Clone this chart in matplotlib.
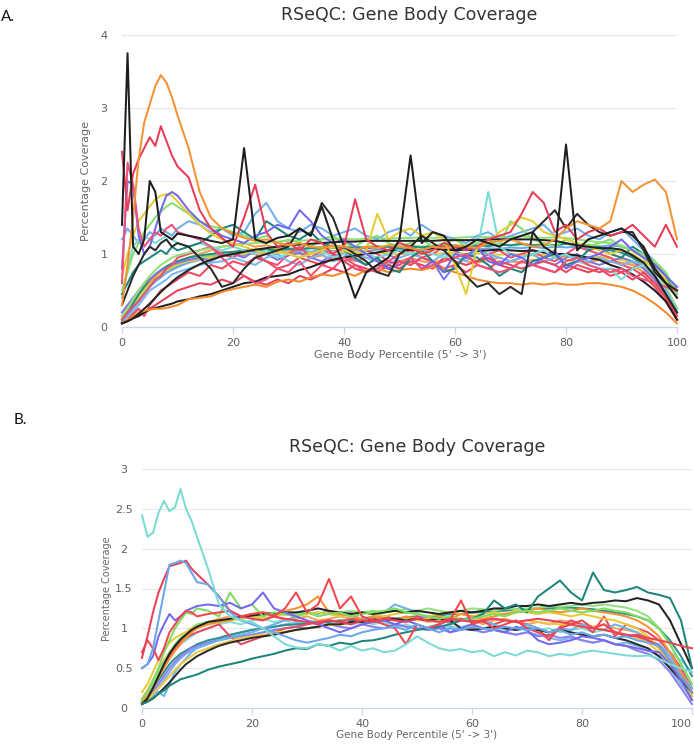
import matplotlib
matplotlib.use("Agg")
import matplotlib.pyplot as plt


# =========================================================
# DATA  (percentile grid: 0..10 step 1, then 12..100 step 2)
# =========================================================

x_pct = list(range(0, 11)) + list(range(12, 101, 2))

# ---------- panel A ----------
a_black_spike = [1.40, 3.75, 1.10, 1.00, 1.20, 2.00, 1.85, 1.30, 1.25, 1.20, 1.28,
                 1.25, 1.22, 1.18, 1.15, 1.20, 2.45, 1.20, 1.15, 1.22, 1.25,
                 1.35, 1.25, 1.65, 1.20, 0.85, 0.40, 0.75, 0.85, 0.95, 1.20,
                 2.35, 1.15, 1.30, 1.25, 1.05, 1.10, 1.20, 1.15, 1.10, 1.20,
                 1.25, 1.30, 1.10, 1.00, 2.50, 1.05, 1.20, 1.25, 1.30, 1.35,
                 1.25, 1.10, 0.80, 0.60, 0.40]
a_black_noisy = [0.30, 0.50, 0.70, 0.85, 1.00, 1.10, 1.05, 1.15, 1.20, 1.10, 1.15,
                 1.10, 0.95, 0.80, 0.55, 0.60, 0.80, 0.95, 1.00, 1.05, 1.10,
                 1.35, 1.25, 1.70, 1.50, 1.10, 1.00, 0.90, 0.75, 0.70, 1.00,
                 1.10, 1.25, 1.15, 1.05, 0.90, 0.70, 0.55, 0.60, 0.45, 0.55,
                 0.45, 1.30, 1.45, 1.60, 1.35, 1.55, 1.40, 1.30, 1.25, 1.30,
                 1.30, 1.05, 0.75, 0.60, 0.50]
a_black_smooth = [0.05, 0.08, 0.12, 0.18, 0.25, 0.32, 0.40, 0.48, 0.55, 0.62, 0.68,
                  0.78, 0.86, 0.92, 0.97, 1.00, 1.03, 1.06, 1.08, 1.10, 1.12,
                  1.13, 1.14, 1.15, 1.16, 1.17, 1.17, 1.18, 1.18, 1.18, 1.18,
                  1.18, 1.18, 1.18, 1.19, 1.19, 1.19, 1.19, 1.20, 1.20, 1.20,
                  1.20, 1.20, 1.19, 1.18, 1.15, 1.12, 1.10, 1.08, 1.08, 1.06,
                  0.98, 0.88, 0.70, 0.45, 0.20]
a_black_low = [0.05, 0.08, 0.12, 0.15, 0.20, 0.24, 0.26, 0.28, 0.30, 0.32, 0.35,
               0.38, 0.42, 0.45, 0.50, 0.55, 0.60, 0.62, 0.68, 0.70, 0.72,
               0.78, 0.82, 0.88, 0.92, 0.95, 0.98, 1.00, 1.02, 1.05, 1.04,
               1.06, 1.05, 1.08, 1.06, 1.05, 1.06, 1.04, 1.05, 1.06, 1.05,
               1.04, 1.05, 1.02, 1.00, 1.00, 0.98, 0.95, 0.92, 0.85, 0.80,
               0.72, 0.62, 0.50, 0.35, 0.10]
a_orange_peak = [0.30, 0.85, 1.50, 2.30, 2.80, 3.05, 3.30, 3.45, 3.35, 3.15, 2.90,
                 2.45, 1.85, 1.50, 1.35, 1.28, 1.22, 1.18, 1.20, 1.15, 1.12,
                 1.15, 1.10, 1.08, 1.12, 1.10, 1.05, 1.10, 1.08, 1.12, 1.10,
                 1.08, 1.05, 1.10, 1.08, 1.12, 1.10, 1.08, 1.15, 1.18, 1.20,
                 1.15, 1.10, 1.12, 1.20, 1.35, 1.45, 1.40, 1.35, 1.45, 2.00,
                 1.85, 1.95, 2.02, 1.85, 1.20]
a_orange_low = [0.05, 0.10, 0.15, 0.20, 0.22, 0.24, 0.25, 0.25, 0.26, 0.28, 0.30,
                0.38, 0.40, 0.42, 0.48, 0.52, 0.55, 0.58, 0.55, 0.62, 0.65,
                0.62, 0.68, 0.72, 0.70, 0.75, 0.70, 0.78, 0.80, 0.75, 0.78,
                0.80, 0.78, 0.82, 0.80, 0.75, 0.70, 0.65, 0.62, 0.60, 0.60,
                0.58, 0.60, 0.58, 0.60, 0.58, 0.58, 0.60, 0.60, 0.58, 0.55,
                0.50, 0.42, 0.32, 0.20, 0.05]
a_red_peak = [2.40, 1.60, 2.10, 2.30, 2.45, 2.60, 2.48, 2.75, 2.55, 2.35, 2.20,
              2.05, 1.60, 1.35, 1.22, 1.10, 1.50, 1.95, 1.30, 1.10, 1.15,
              1.05, 1.20, 1.15, 1.00, 1.10, 1.75, 1.20, 1.10, 1.05, 1.15,
              1.10, 1.00, 1.05, 1.15, 1.10, 1.05, 1.10, 1.20, 1.25, 1.30,
              1.55, 1.85, 1.70, 1.30, 1.40, 1.20, 1.30, 1.35, 1.25, 1.30,
              1.40, 1.25, 1.10, 1.40, 1.10]
a_pink = [0.60, 2.25, 1.95, 1.35, 1.10, 1.20, 1.30, 1.25, 1.35, 1.40, 1.30,
          1.25, 1.20, 1.10, 0.95, 0.80, 0.70, 0.60, 0.65, 0.80, 0.75,
          0.90, 0.70, 0.85, 0.80, 0.95, 0.85, 0.75, 0.80, 0.90, 0.85,
          0.95, 0.80, 0.85, 0.90, 0.95, 1.00, 0.85, 0.80, 0.75, 0.80,
          0.90, 0.85, 0.80, 0.75, 0.90, 0.95, 0.85, 0.80, 0.75, 0.80,
          0.70, 0.65, 0.60, 0.55, 0.50]
a_purple = [0.80, 2.00, 1.95, 1.25, 1.00, 1.10, 1.35, 1.60, 1.80, 1.85, 1.80,
            1.60, 1.45, 1.35, 1.25, 1.20, 1.15, 1.25, 1.30, 1.40, 1.35,
            1.60, 1.45, 1.25, 1.15, 1.20, 1.10, 1.00, 0.90, 0.80, 0.85,
            0.95, 0.80, 0.90, 0.75, 1.00, 0.95, 1.10, 0.90, 0.85, 1.00,
            0.95, 0.85, 0.95, 1.05, 0.80, 0.90, 0.95, 1.00, 1.10, 1.20,
            1.05, 0.95, 0.85, 0.70, 0.55]
a_yellow = [0.70, 1.00, 1.25, 1.45, 1.55, 1.65, 1.75, 1.80, 1.82, 1.80, 1.72,
            1.55, 1.40, 1.28, 1.20, 1.15, 1.10, 1.05, 1.00, 1.05, 1.00,
            0.95, 1.00, 1.05, 1.10, 1.05, 1.00, 1.05, 1.55, 1.20, 1.30,
            1.35, 1.25, 1.30, 1.20, 0.85, 0.45, 1.10, 1.15, 1.30, 1.40,
            1.50, 1.45, 1.30, 1.25, 1.20, 1.15, 1.10, 1.05, 1.00, 1.05,
            1.00, 0.90, 0.80, 0.65, 0.40]
a_green = [0.50, 0.75, 1.00, 1.15, 1.30, 1.40, 1.50, 1.58, 1.65, 1.70, 1.65,
           1.55, 1.45, 1.38, 1.35, 1.30, 1.25, 1.20, 1.25, 1.15, 1.20,
           1.15, 1.10, 1.20, 1.25, 1.15, 1.10, 1.20, 1.25, 1.15, 1.10,
           1.15, 1.20, 1.10, 1.15, 1.20, 1.10, 1.15, 1.20, 1.10, 1.45,
           1.35, 1.20, 1.15, 1.10, 1.20, 1.15, 1.10, 1.15, 1.20, 1.10,
           1.05, 1.00, 0.90, 0.75, 0.45]
a_teal = [0.45, 0.60, 0.75, 0.85, 0.90, 0.95, 1.00, 1.05, 1.00, 1.10, 1.05,
          1.10, 1.15, 1.25, 1.35, 1.40, 1.30, 1.20, 1.45, 1.35, 1.25,
          1.20, 1.30, 1.15, 1.10, 1.05, 0.95, 0.85, 0.95, 0.80, 0.75,
          0.95, 1.05, 0.90, 0.75, 0.80, 1.00, 0.95, 0.85, 0.70, 0.80,
          0.75, 0.90, 0.95, 1.00, 0.85, 0.90, 1.05, 1.10, 1.00, 0.95,
          1.10, 1.00, 0.85, 0.70, 0.45]
a_cyan = [0.40, 0.80, 1.10, 1.20, 1.25, 1.20, 1.15, 1.20, 1.25, 1.20, 1.15,
          1.10, 1.15, 1.10, 1.05, 1.10, 1.05, 1.00, 1.05, 0.95, 1.00,
          0.95, 1.00, 1.05, 0.95, 1.00, 1.05, 1.00, 0.95, 1.00, 1.05,
          1.00, 1.05, 1.00, 0.95, 1.00, 1.00, 1.05, 1.85, 1.10, 1.00,
          0.95, 1.00, 1.05, 0.95, 1.00, 0.90, 0.85, 0.80, 0.80, 0.65,
          0.80, 0.85, 0.75, 0.65, 0.55]
a_lightblue = [1.20, 1.35, 1.25, 1.15, 1.20, 1.30, 1.25, 1.35, 1.30, 1.25, 1.35,
               1.45, 1.40, 1.30, 1.35, 1.25, 1.30, 1.55, 1.70, 1.45, 1.35,
               1.30, 1.40, 1.35, 1.25, 1.30, 1.35, 1.25, 1.20, 1.30, 1.35,
               1.25, 1.40, 1.30, 1.25, 1.20, 1.15, 1.25, 1.30, 1.20, 1.25,
               1.30, 1.35, 1.40, 1.25, 1.30, 1.35, 1.25, 1.20, 1.30, 1.35,
               1.20, 1.05, 0.90, 0.70, 0.40]
a_green_s = [0.10, 0.18, 0.28, 0.38, 0.48, 0.56, 0.64, 0.70, 0.76, 0.80, 0.84,
             0.90, 0.95, 0.98, 1.00, 1.02, 1.04, 1.06, 1.05, 1.08, 1.07,
             1.09, 1.08, 1.10, 1.09, 1.10, 1.08, 1.10, 1.11, 1.09, 1.10,
             1.12, 1.10, 1.11, 1.12, 1.10, 1.12, 1.11, 1.12, 1.13, 1.12,
             1.13, 1.12, 1.13, 1.12, 1.14, 1.12, 1.13, 1.10, 1.08, 1.05,
             0.98, 0.85, 0.65, 0.40, 0.15]
a_red_s = [0.05, 0.10, 0.18, 0.25, 0.15, 0.30, 0.40, 0.50, 0.55, 0.60, 0.65,
           0.75, 0.70, 0.85, 0.80, 0.90, 0.85, 0.95, 0.90, 0.80, 0.85,
           0.95, 0.90, 0.85, 0.95, 0.90, 0.80, 0.75, 0.85, 0.80, 0.90,
           0.85, 0.95, 0.90, 0.80, 0.85, 0.75, 0.85, 0.80, 0.90, 0.85,
           0.80, 0.85, 0.90, 0.85, 0.75, 0.85, 0.80, 0.75, 0.80, 0.75,
           0.80, 0.70, 0.55, 0.35, 0.10]
a_blue_s = [0.08, 0.15, 0.25, 0.35, 0.45, 0.55, 0.62, 0.68, 0.74, 0.78, 0.82,
            0.88, 0.92, 0.95, 0.98, 1.00, 0.98, 1.02, 1.00, 1.04, 1.02,
            1.05, 1.03, 1.06, 1.04, 1.05, 1.06, 1.04, 1.06, 1.05, 1.07,
            1.05, 1.06, 1.08, 1.06, 1.07, 1.08, 1.06, 1.08, 1.07, 1.09,
            1.08, 1.10, 1.08, 1.10, 1.09, 1.10, 1.08, 1.10, 1.12, 1.10,
            1.05, 0.95, 0.80, 0.55, 0.25]
a_yellow_s = [0.12, 0.22, 0.32, 0.42, 0.52, 0.60, 0.67, 0.73, 0.78, 0.82, 0.86,
              0.90, 0.93, 0.95, 0.97, 0.99, 1.00, 1.01, 1.00, 1.02, 1.01,
              1.00, 1.02, 1.01, 1.03, 1.02, 1.01, 1.00, 1.02, 1.01, 1.00,
              1.01, 1.02, 1.00, 1.01, 1.02, 1.00, 1.01, 1.00, 0.99, 1.00,
              0.99, 0.98, 0.99, 0.98, 0.97, 0.96, 0.95, 0.96, 0.94, 0.92,
              0.88, 0.80, 0.65, 0.45, 0.15]
a_orange_s = [0.15, 0.25, 0.35, 0.45, 0.55, 0.62, 0.70, 0.76, 0.82, 0.86, 0.90,
              0.95, 1.00, 1.05, 1.10, 1.12, 1.15, 1.10, 1.12, 1.08, 1.05,
              1.00, 0.95, 0.98, 0.92, 0.95, 0.90, 0.95, 0.92, 0.88, 0.90,
              0.95, 0.90, 0.88, 0.92, 0.95, 0.90, 0.88, 0.92, 0.95, 0.90,
              0.88, 0.92, 0.90, 0.95, 0.92, 0.90, 0.88, 0.92, 0.90, 0.88,
              0.85, 0.75, 0.60, 0.40, 0.10]
a_teal_s = [0.10, 0.20, 0.32, 0.45, 0.55, 0.65, 0.72, 0.78, 0.83, 0.87, 0.90,
            0.95, 0.98, 1.00, 1.02, 1.03, 1.05, 1.04, 1.06, 1.05, 1.07,
            1.06, 1.08, 1.07, 1.09, 1.08, 1.10, 1.08, 1.09, 1.10, 1.08,
            1.10, 1.09, 1.11, 1.10, 1.12, 1.10, 1.12, 1.11, 1.13, 1.12,
            1.14, 1.12, 1.13, 1.12, 1.14, 1.12, 1.10, 1.08, 1.05, 1.02,
            0.95, 0.85, 0.70, 0.50, 0.25]
a_purple_s = [0.20, 0.30, 0.40, 0.50, 0.60, 0.65, 0.72, 0.78, 0.80, 0.85, 0.88,
              0.92, 0.95, 0.90, 0.98, 1.00, 0.95, 1.05, 1.00, 0.92, 0.98,
              1.02, 0.95, 0.90, 0.98, 1.00, 0.92, 0.85, 0.95, 1.00, 0.90,
              0.85, 0.95, 0.90, 0.65, 0.85, 0.95, 0.90, 1.00, 0.85, 0.90,
              0.95, 1.00, 0.90, 0.85, 0.95, 1.00, 0.90, 0.85, 0.90, 0.95,
              0.90, 0.80, 0.65, 0.45, 0.20]
a_pink_s = [0.10, 0.20, 0.28, 0.35, 0.45, 0.55, 0.65, 0.70, 0.80, 0.85, 0.95,
            1.00, 1.05, 1.10, 1.00, 0.95, 1.05, 1.00, 0.90, 0.85, 1.00,
            1.10, 0.95, 1.05, 1.00, 0.90, 0.95, 1.05, 1.00, 0.90, 1.00,
            1.05, 0.95, 1.00, 1.10, 1.05, 0.95, 0.90, 1.00, 1.05, 0.95,
            1.00, 1.05, 0.95, 0.90, 1.00, 1.10, 1.05, 1.00, 0.95, 0.85,
            0.80, 0.90, 0.85, 0.70, 0.50]
a_lime_s = [0.15, 0.25, 0.38, 0.50, 0.60, 0.70, 0.78, 0.85, 0.90, 0.95, 0.98,
            1.02, 1.05, 1.08, 1.10, 1.12, 1.14, 1.15, 1.16, 1.17, 1.18,
            1.18, 1.19, 1.20, 1.20, 1.21, 1.20, 1.21, 1.22, 1.21, 1.22,
            1.22, 1.23, 1.22, 1.23, 1.22, 1.23, 1.24, 1.23, 1.24, 1.23,
            1.24, 1.23, 1.22, 1.23, 1.22, 1.20, 1.18, 1.16, 1.15, 1.12,
            1.05, 0.95, 0.78, 0.55, 0.25]
a_skyblue_s = [0.05, 0.10, 0.20, 0.30, 0.40, 0.50, 0.55, 0.60, 0.65, 0.72, 0.75,
               0.80, 0.85, 0.88, 0.90, 0.95, 0.90, 0.85, 0.95, 1.00, 0.90,
               0.85, 0.95, 1.00, 0.90, 0.95, 1.00, 0.95, 0.90, 0.85, 0.95,
               1.00, 0.95, 0.90, 1.00, 0.95, 0.90, 1.05, 1.00, 0.95, 0.90,
               0.95, 1.00, 0.90, 0.95, 1.00, 0.95, 0.90, 0.95, 0.90, 0.85,
               0.90, 0.85, 0.70, 0.50, 0.20]
a_red_low = [0.05, 0.08, 0.12, 0.15, 0.20, 0.25, 0.30, 0.35, 0.40, 0.45, 0.50,
             0.55, 0.60, 0.58, 0.65, 0.60, 0.70, 0.62, 0.58, 0.65, 0.60,
             0.70, 0.65, 0.72, 0.80, 0.75, 0.85, 0.80, 0.75, 0.85, 0.80,
             0.90, 0.85, 0.80, 0.95, 0.90, 0.85, 0.90, 0.95, 0.85, 0.80,
             0.90, 0.85, 0.80, 0.75, 0.85, 0.80, 0.75, 0.80, 0.70, 0.75,
             0.65, 0.75, 0.60, 0.40, 0.15]

# ---------- panel B ----------
b_cyan_peak = [2.42, 2.15, 2.20, 2.45, 2.60, 2.47, 2.52, 2.75, 2.50, 2.35, 2.15,
               1.75, 1.30, 1.15, 1.10, 1.08, 1.00, 0.90, 0.80, 0.76, 0.75,
               0.80, 0.78, 0.72, 0.78, 0.72, 0.75, 0.70, 0.72, 0.80, 0.90,
               0.82, 0.75, 0.72, 0.74, 0.70, 0.72, 0.65, 0.70, 0.66, 0.72,
               0.70, 0.65, 0.68, 0.66, 0.70, 0.72, 0.70, 0.68, 0.66, 0.65,
               0.66, 0.62, 0.55, 0.50, 0.45]
b_blue_peak = [0.50, 0.55, 0.75, 1.10, 1.45, 1.80, 1.82, 1.85, 1.82, 1.70, 1.58,
               1.55, 1.40, 1.20, 1.10, 1.05, 1.00, 0.95, 0.90, 0.85, 0.82,
               0.85, 0.88, 0.92, 0.90, 0.95, 0.98, 1.00, 1.02, 0.98, 1.05,
               1.00, 0.95, 1.00, 0.98, 1.02, 1.00, 0.98, 1.02, 1.00, 0.98,
               1.00, 0.95, 0.98, 0.92, 0.95, 0.90, 0.92, 0.88, 0.90, 0.85,
               0.82, 0.78, 0.60, 0.40, 0.20]
b_red_peak = [0.63, 0.90, 1.20, 1.45, 1.62, 1.78, 1.80, 1.82, 1.85, 1.75, 1.68,
              1.55, 1.40, 1.22, 1.15, 1.12, 1.10, 1.15, 1.12, 1.10, 1.08,
              1.05, 1.10, 1.08, 1.05, 1.10, 1.08, 1.12, 1.10, 1.08, 1.12,
              1.10, 1.08, 1.12, 1.10, 1.08, 1.10, 1.12, 1.10, 1.08, 1.10,
              1.12, 1.10, 1.08, 1.05, 1.02, 1.00, 0.98, 0.95, 0.92, 0.90,
              0.85, 0.78, 0.60, 0.40, 0.20]
b_red_jag = [0.70, 0.85, 0.75, 0.60, 0.75, 0.95, 1.05, 1.15, 1.22, 1.20, 1.15,
             1.18, 1.20, 1.22, 1.15, 1.18, 1.20, 1.15, 1.25, 1.45, 1.20,
             1.30, 1.62, 1.25, 1.40, 1.15, 1.10, 1.05, 1.00, 0.80, 1.05,
             1.00, 1.05, 1.10, 1.35, 1.05, 1.10, 1.00, 1.05, 1.10, 1.00,
             0.95, 0.90, 1.00, 1.05, 1.10, 1.00, 1.05, 0.95, 0.90, 0.92,
             0.88, 0.85, 0.82, 0.78, 0.75]
b_purple = [0.50, 0.55, 0.65, 0.90, 1.05, 1.18, 1.10, 1.15, 1.22, 1.25, 1.28,
            1.30, 1.28, 1.32, 1.25, 1.30, 1.45, 1.25, 1.20, 1.15, 1.10,
            1.05, 1.00, 0.95, 1.00, 1.05, 1.08, 1.10, 1.05, 1.10, 1.05,
            1.00, 1.05, 0.95, 1.00, 1.05, 1.00, 0.98, 0.95, 1.02, 0.98,
            0.85, 0.80, 0.82, 0.85, 0.90, 0.88, 0.85, 0.80, 0.78, 0.75,
            0.72, 0.70, 0.55, 0.35, 0.10]
b_green_jag = [0.10, 0.20, 0.35, 0.50, 0.70, 0.85, 1.00, 1.10, 1.20, 1.18, 1.25,
               1.22, 1.15, 1.45, 1.25, 1.30, 1.15, 1.20, 1.18, 1.15, 1.20,
               1.15, 1.18, 1.20, 1.15, 1.18, 1.20, 1.22, 1.25, 1.20, 1.18,
               1.15, 1.12, 1.15, 1.10, 1.12, 1.15, 1.18, 1.15, 1.20, 1.22,
               1.20, 1.22, 1.25, 1.22, 1.20, 1.22, 1.25, 1.22, 1.20, 1.15,
               1.10, 1.00, 0.80, 0.55, 0.30]
b_teal_low = [0.05, 0.08, 0.12, 0.18, 0.22, 0.28, 0.32, 0.36, 0.38, 0.40, 0.42,
              0.48, 0.52, 0.55, 0.58, 0.62, 0.65, 0.68, 0.72, 0.75, 0.74,
              0.80, 0.78, 0.82, 0.80, 0.84, 0.85, 0.88, 0.92, 0.95, 0.98,
              1.00, 1.02, 1.05, 1.10, 1.12, 1.18, 1.35, 1.25, 1.30, 1.20,
              1.40, 1.50, 1.60, 1.45, 1.35, 1.70, 1.48, 1.45, 1.48, 1.52,
              1.45, 1.42, 1.38, 1.10, 0.50]
b_black_high = [0.05, 0.12, 0.25, 0.40, 0.55, 0.68, 0.78, 0.86, 0.92, 0.98, 1.02,
                1.08, 1.10, 1.12, 1.15, 1.16, 1.18, 1.19, 1.20, 1.20, 1.22,
                1.25, 1.22, 1.20, 1.18, 1.20, 1.18, 1.20, 1.22, 1.20, 1.22,
                1.20, 1.18, 1.20, 1.22, 1.20, 1.22, 1.25, 1.25, 1.28, 1.28,
                1.30, 1.28, 1.30, 1.32, 1.30, 1.32, 1.33, 1.35, 1.34, 1.38,
                1.35, 1.30, 1.10, 0.80, 0.50]
b_black_mid = [0.05, 0.08, 0.12, 0.18, 0.25, 0.32, 0.40, 0.48, 0.55, 0.60, 0.65,
               0.72, 0.78, 0.82, 0.85, 0.88, 0.90, 0.92, 0.95, 0.98, 1.00,
               1.02, 1.05, 1.05, 1.08, 1.08, 1.10, 1.10, 1.12, 1.10, 1.12,
               1.10, 1.12, 1.10, 1.00, 0.98, 1.00, 1.02, 1.00, 0.98, 1.00,
               0.98, 0.95, 0.98, 0.95, 0.92, 0.90, 0.92, 0.88, 0.85, 0.80,
               0.75, 0.65, 0.50, 0.35, 0.20]
b_orange = [0.08, 0.15, 0.25, 0.38, 0.50, 0.62, 0.72, 0.80, 0.88, 0.95, 1.00,
            1.05, 1.08, 1.10, 1.15, 1.18, 1.20, 1.18, 1.22, 1.25, 1.30,
            1.40, 1.20, 1.18, 1.15, 1.12, 1.15, 1.12, 1.10, 1.15, 1.12,
            1.10, 1.15, 1.12, 1.18, 1.15, 1.12, 1.15, 1.18, 1.20, 1.22,
            1.25, 1.22, 1.20, 1.22, 1.25, 1.22, 1.20, 1.18, 1.15, 1.10,
            1.02, 0.90, 0.70, 0.45, 0.20]
b_yellow = [0.20, 0.30, 0.45, 0.60, 0.72, 0.82, 0.88, 0.92, 0.95, 1.00, 1.02,
            1.05, 1.08, 1.10, 1.12, 1.15, 1.12, 1.15, 1.18, 1.15, 1.18,
            1.20, 1.18, 1.15, 1.18, 1.20, 1.18, 1.15, 1.18, 1.20, 1.18,
            1.15, 1.18, 1.20, 1.18, 1.15, 1.18, 1.20, 1.18, 1.22, 1.20,
            1.18, 1.20, 1.18, 1.15, 1.18, 1.15, 1.12, 1.10, 1.05, 1.00,
            0.90, 0.75, 0.55, 0.35, 0.18]
b_yellow_low = [0.05, 0.10, 0.18, 0.25, 0.32, 0.40, 0.48, 0.55, 0.60, 0.65, 0.70,
                0.75, 0.80, 0.84, 0.88, 0.90, 0.92, 0.95, 0.96, 0.98, 1.00,
                1.02, 1.04, 1.05, 1.06, 1.08, 1.08, 1.10, 1.10, 1.12, 1.10,
                1.12, 1.10, 1.12, 1.10, 1.12, 1.10, 1.12, 1.10, 1.08, 1.10,
                1.08, 1.06, 1.05, 1.04, 1.02, 1.00, 0.98, 0.96, 0.92, 0.88,
                0.82, 0.70, 0.55, 0.35, 0.10]
b_lightblue = [0.08, 0.15, 0.18, 0.20, 0.15, 0.30, 0.45, 0.55, 0.62, 0.70, 0.75,
               0.80, 0.85, 0.88, 0.92, 0.95, 1.00, 1.05, 1.10, 1.15, 1.20,
               1.18, 1.22, 1.15, 1.20, 1.10, 1.15, 1.20, 1.30, 1.25, 1.20,
               1.10, 1.15, 1.05, 1.10, 1.15, 1.10, 1.05, 1.00, 0.98, 1.05,
               1.00, 0.95, 1.00, 0.98, 1.05, 1.00, 0.98, 1.05, 1.00, 0.95,
               0.85, 0.80, 0.65, 0.45, 0.25]
b_green_s = [0.10, 0.18, 0.30, 0.45, 0.58, 0.70, 0.80, 0.88, 0.95, 1.00, 1.05,
             1.08, 1.10, 1.12, 1.14, 1.15, 1.16, 1.18, 1.17, 1.18, 1.19,
             1.20, 1.18, 1.20, 1.22, 1.20, 1.22, 1.20, 1.22, 1.24, 1.22,
             1.25, 1.22, 1.20, 1.22, 1.25, 1.24, 1.22, 1.25, 1.24, 1.25,
             1.26, 1.28, 1.27, 1.28, 1.30, 1.28, 1.30, 1.28, 1.26, 1.22,
             1.15, 1.00, 0.80, 0.55, 0.30]
b_red_s = [0.08, 0.15, 0.28, 0.42, 0.55, 0.65, 0.75, 0.82, 0.88, 0.92, 0.95,
           1.00, 1.05, 0.90, 0.80, 0.85, 0.90, 0.95, 1.00, 1.02, 1.05,
           1.08, 1.10, 1.08, 1.12, 1.10, 1.12, 1.15, 1.12, 1.10, 1.15,
           1.12, 1.10, 1.08, 1.12, 1.10, 1.08, 1.05, 1.10, 1.08, 1.05,
           1.00, 0.85, 1.02, 1.10, 1.05, 0.95, 1.15, 0.90, 1.05, 1.00,
           0.95, 0.85, 0.70, 0.50, 0.25]
b_purple_s = [0.08, 0.12, 0.20, 0.30, 0.40, 0.50, 0.58, 0.65, 0.70, 0.75, 0.78,
              0.82, 0.85, 0.88, 0.90, 0.92, 0.95, 0.98, 1.00, 1.02, 1.00,
              1.02, 1.05, 1.02, 1.00, 1.05, 1.02, 1.00, 1.05, 1.02, 1.00,
              0.98, 1.00, 0.95, 0.98, 1.00, 0.95, 0.98, 0.95, 0.92, 0.95,
              0.90, 0.92, 0.88, 0.90, 0.85, 0.82, 0.85, 0.80, 0.78, 0.72,
              0.68, 0.60, 0.45, 0.25, 0.05]
b_teal_s = [0.10, 0.15, 0.25, 0.35, 0.45, 0.55, 0.62, 0.68, 0.72, 0.76, 0.80,
            0.85, 0.88, 0.92, 0.95, 0.98, 1.00, 1.02, 1.04, 1.05, 1.06,
            1.08, 1.08, 1.10, 1.10, 1.12, 1.12, 1.14, 1.12, 1.14, 1.15,
            1.15, 1.16, 1.18, 1.18, 1.20, 1.20, 1.22, 1.22, 1.24, 1.24,
            1.25, 1.25, 1.26, 1.26, 1.25, 1.24, 1.22, 1.20, 1.18, 1.15,
            1.10, 1.00, 0.85, 0.65, 0.40]
b_orange_s = [0.12, 0.22, 0.35, 0.48, 0.60, 0.70, 0.78, 0.85, 0.92, 0.98, 1.02,
              1.08, 1.12, 1.15, 1.12, 1.15, 1.12, 1.15, 1.10, 1.12, 1.15,
              1.10, 1.12, 1.15, 1.12, 1.10, 1.12, 1.15, 1.12, 1.10, 1.12,
              1.08, 1.10, 1.15, 1.12, 1.10, 1.05, 1.10, 1.12, 1.08, 1.05,
              1.08, 1.05, 1.10, 1.08, 1.05, 1.02, 1.05, 1.00, 0.98, 0.95,
              0.88, 0.75, 0.58, 0.38, 0.15]
b_cyan_s = [0.10, 0.18, 0.28, 0.40, 0.52, 0.62, 0.72, 0.80, 0.85, 0.90, 0.95,
            1.00, 1.05, 1.08, 1.05, 1.10, 1.12, 1.08, 1.10, 1.05, 1.08,
            1.10, 1.05, 1.08, 1.12, 1.10, 1.05, 1.08, 1.02, 1.05, 1.00,
            1.02, 1.05, 1.00, 1.02, 1.05, 1.00, 1.02, 0.98, 1.00, 1.02,
            0.98, 1.00, 0.95, 0.98, 1.00, 0.95, 0.98, 0.95, 0.92, 0.90,
            0.85, 0.78, 0.70, 0.60, 0.45]
b_skyblue_s = [0.05, 0.10, 0.15, 0.25, 0.35, 0.45, 0.55, 0.62, 0.68, 0.72, 0.78,
               0.82, 0.86, 0.90, 0.95, 0.98, 1.00, 1.02, 1.05, 1.08, 1.05,
               1.08, 1.10, 1.08, 1.05, 1.08, 1.10, 1.08, 1.05, 1.02, 1.00,
               0.98, 1.00, 1.02, 1.00, 0.98, 0.95, 0.98, 0.95, 0.92, 0.95,
               0.92, 0.88, 0.85, 0.88, 0.85, 0.82, 0.85, 0.80, 0.82, 0.78,
               0.72, 0.65, 0.50, 0.30, 0.10]

# draw order: smooth ones first, the spiky samples on top
panel_a = [
    (a_green_s, "#7fd86b"), (a_blue_s, "#6aa8ee"), (a_yellow_s, "#e3c93a"),
    (a_orange_s, "#f49a45"), (a_teal_s, "#23907f"), (a_purple_s, "#7f74ec"),
    (a_pink_s, "#ee4f72"), (a_lime_s, "#93e07a"), (a_skyblue_s, "#7ab6ee"),
    (a_red_low, "#e8405a"), (a_red_s, "#ea4a5f"), (a_black_low, "#1f1f1f"),
    (a_orange_low, "#f58a2d"), (a_lightblue, "#6fb0ee"), (a_cyan, "#78dcd4"),
    (a_teal, "#1d857a"), (a_green, "#86de70"), (a_yellow, "#e5cc36"),
    (a_purple, "#7268ee"), (a_pink, "#f0507a"), (a_black_smooth, "#222222"),
    (a_black_noisy, "#2a2a2a"), (a_red_peak, "#e83c58"),
    (a_orange_peak, "#f59231"), (a_black_spike, "#1e1e1e"),
]

panel_b = [
    (b_skyblue_s, "#7cb5ec"), (b_cyan_s, "#85e0d8"), (b_orange_s, "#f7a35c"),
    (b_teal_s, "#2b908f"), (b_purple_s, "#8a80ee"), (b_red_s, "#ea4a5f"),
    (b_green_s, "#90e07d"), (b_lightblue, "#6fb0ee"), (b_yellow_low, "#ecc843"),
    (b_yellow, "#e5cc36"), (b_orange, "#f59231"), (b_black_mid, "#2a2a2a"),
    (b_black_high, "#222222"), (b_teal_low, "#1d857a"), (b_green_jag, "#7edc62"),
    (b_purple, "#7468ee"), (b_red_jag, "#f0464f"), (b_red_peak, "#e8405a"),
    (b_blue_peak, "#6aa6ea"), (b_cyan_peak, "#79dbd3"),
]


# =========================================================
# HELPERS
# =========================================================

W, H = 694, 744


def fx(px):
    return px / W


def fy(py):
    return 1 - py / H


def draw_panel(ax, series, ymax, ystep, yfmt):
    for values, color in series:
        ax.plot(x_pct, values, color=color, lw=1.45, clip_on=False,
                solid_joinstyle="round")

    ax.set_xlim(0, 100)
    ax.set_ylim(0, ymax)
    ax.set_xticks([0, 20, 40, 60, 80, 100])
    yt = [i * ystep for i in range(int(round(ymax / ystep)) + 1)]
    ax.set_yticks(yt)
    ax.set_yticklabels([yfmt(v) for v in yt])

    ax.grid(axis="y", color="#e6e6e6", lw=0.8)
    ax.set_axisbelow(True)
    for s in ["top", "right", "left"]:
        ax.spines[s].set_visible(False)
    ax.spines["bottom"].set_color("#ccd6eb")
    ax.spines["bottom"].set_linewidth(0.9)

    ax.tick_params(axis="x", colors="#ccd6eb", length=5, width=0.9,
                   labelcolor="#606060", labelsize=8, pad=3)
    ax.tick_params(axis="y", length=0, labelcolor="#606060", labelsize=8,
                   pad=13)
    for lab in ax.get_yticklabels():
        lab.set_horizontalalignment("center")


def fmt_int(v):
    return f"{v:g}"


# =========================================================
# FIGURE
# =========================================================

fig = plt.figure(figsize=(W / 100, H / 100), dpi=100)
fig.patch.set_facecolor("white")

# panel A
ax_a = fig.add_axes([fx(122), fy(327), fx(677) - fx(122), fy(35) - fy(327)])
draw_panel(ax_a, panel_a, 4, 1, fmt_int)

# panel B
ax_b = fig.add_axes([fx(142), fy(708), fx(692) - fx(142), fy(469) - fy(708)])
draw_panel(ax_b, panel_b, 3, 0.5, fmt_int)
# last label pulled inside the figure, as in the original
ax_b.get_xticklabels()[-1].set_horizontalalignment("right")

# titles / labels
fig.text(fx(409), fy(15), "RSeQC: Gene Body Coverage", ha="center", va="center",
         fontsize=12.5, color="#333333", family="DejaVu Sans")
fig.text(fx(417), fy(447), "RSeQC: Gene Body Coverage", ha="center", va="center",
         fontsize=12.5, color="#333333", family="DejaVu Sans")

fig.text(fx(400), fy(355), "Gene Body Percentile (5' -> 3')", ha="center",
         va="center", fontsize=8, color="#666666")
fig.text(fx(417), fy(735), "Gene Body Percentile (5' -> 3')", ha="center",
         va="center", fontsize=7.5, color="#666666")

fig.text(fx(86), fy(181), "Percentage Coverage", ha="center", va="center",
         rotation=90, fontsize=8, color="#666666")
fig.text(fx(107), fy(589), "Percentage Coverage", ha="center", va="center",
         rotation=90, fontsize=7, color="#666666")

fig.text(fx(1), fy(17), "A.", ha="left", va="center", fontsize=11,
         color="#111111", family="Lato")
fig.text(fx(14), fy(420), "B.", ha="left", va="center", fontsize=11,
         color="#111111", family="Lato")

fig.savefig("out.png", dpi=100, facecolor="white")
plt.close(fig)
